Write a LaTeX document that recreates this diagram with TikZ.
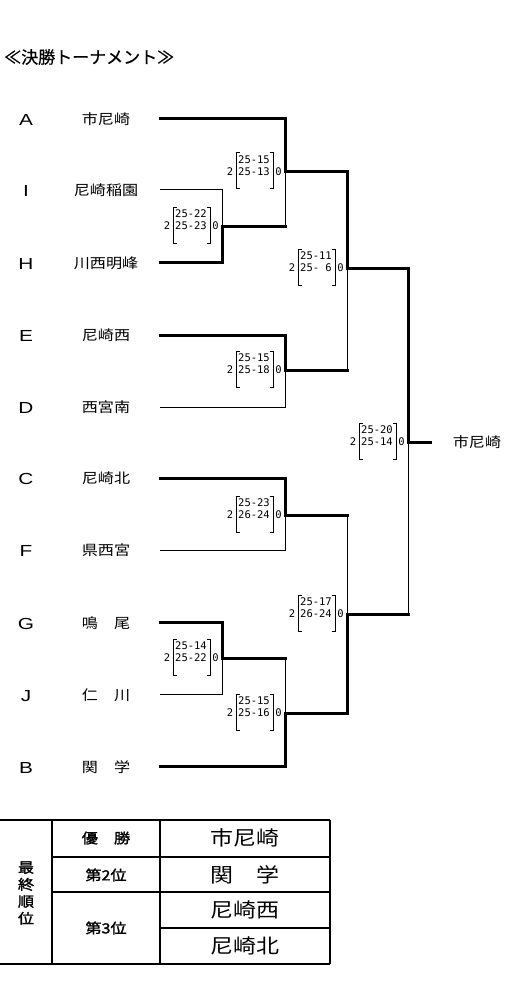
\documentclass[tikz,border=0pt]{standalone}
\usepackage{fontspec}
\newfontfamily\jp[FakeStretch=1.15]{Noto Sans CJK JP}
\newfontfamily\jpt[FakeBold=0.6]{Noto Sans CJK JP}
\newfontfamily\jpb[FakeStretch=1.15,FakeBold=1.6]{Noto Sans CJK JP}
\newfontfamily\lat[FakeStretch=1.3]{Liberation Sans}
\newfontfamily\mono{DejaVu Sans Mono}
\newcommand\mscore[3]{%
  \begin{scope}[shift={(#1)}]
    \node[sc] (#1w) at (-55,0) {2};
    \node[sc] (#1t) at (-31,-12) {#2};
    \node[sc] (#1b) at (-31,0) {#3};
    \node[sc] (#1l) at (-6.5,0) {0};
    \draw[thn] (-45.5,-19) -- (-49,-19) -- (-49,17) -- (-45.5,17);
    \draw[thn] (-15.5,-19) -- (-12,-19) -- (-12,17) -- (-15.5,17);
  \end{scope}}
\begin{document}
\begin{tikzpicture}[x=1pt,y=-1pt,
  thk/.style={line width=3pt,line cap=rect,line join=miter},
  thn/.style={line width=1pt},
  tbl/.style={line width=1.3pt},
  letter/.style={font=\lat\fontsize{16}{18}\selectfont,inner sep=0pt},
  team/.style={font=\jp\fontsize{14}{16}\selectfont,inner sep=0pt},
  sc/.style={font=\mono\fontsize{10.5}{12}\selectfont,inner sep=0pt},
  tl/.style={font=\jpb\fontsize{14}{17}\selectfont,inner sep=0pt,align=center},
  tm/.style={font=\jpb\fontsize{14}{16}\selectfont,inner sep=0pt},
  tr/.style={font=\jp\fontsize{20}{22}\selectfont,inner sep=0pt}]
\useasboundingbox (0,0) rectangle (528,995);
\fill[white] (0,0) rectangle (528,995);

\node[font=\jpt\fontsize{17}{20}\selectfont,anchor=west,inner sep=0pt] (title) at (4,57) {≪決勝トーナメント≫};

% letters
\node[letter] (lA) at (26,120) {A};
\node[letter] (lI) at (26,191) {I};
\node[letter] (lH) at (26,264) {H};
\node[letter] (lE) at (26,336) {E};
\node[letter] (lD) at (26,408) {D};
\node[letter] (lC) at (26,479) {C};
\node[letter] (lF) at (26,551) {F};
\node[letter] (lG) at (26,624) {G};
\node[letter] (lJ) at (26,696) {J};
\node[letter] (lB) at (26,768) {B};

% team names
\node[team] (nA) at (106,119) {市尼崎};
\node[team] (nI) at (106,190) {尼崎稲園};
\node[team] (nH) at (106,263) {川西明峰};
\node[team] (nE) at (106,335) {尼崎西};
\node[team] (nD) at (106,407) {西宮南};
\node[team] (nC) at (106,478) {尼崎北};
\node[team] (nF) at (106,550) {県西宮};
\node[team] (nG) at (106,623) {鳴　尾};
\node[team] (nJ) at (106,695) {仁　川};
\node[team] (nB) at (106,767) {関　学};

% start points
\coordinate (sA) at (160,119);
\coordinate (sI) at (160,190);
\coordinate (sH) at (160,262);
\coordinate (sE) at (160,335);
\coordinate (sD) at (160,407);
\coordinate (sC) at (160,478);
\coordinate (sF) at (160,550);
\coordinate (sG) at (160,622);
\coordinate (sJ) at (160,694);
\coordinate (sB) at (160,766);
% joints
\coordinate (j1) at (285,172);
\coordinate (j2) at (222,226);
\coordinate (j3) at (347,268);
\coordinate (j4) at (285,370);
\coordinate (j5) at (408,442);
\coordinate (j6) at (285,515);
\coordinate (j7) at (347,614);
\coordinate (j8) at (222,658);
\coordinate (j9) at (285,713);
\coordinate (k1) at (285,226);
\coordinate (k3) at (347,370);
\coordinate (k6) at (347,515);
\coordinate (k8) at (285,658);
\coordinate (k7) at (408,614);
\coordinate (fin) at (430,442);

% thin (losers)
\draw[thn] (sI) -| (j2);
\draw[thn] (k1) -- (j1);
\draw[thn] (sD) -| (j4);
\draw[thn] (k3) -- (j3);
\draw[thn] (sF) -| (j6);
\draw[thn] (k6) -- (j7);
\draw[thn] (sJ) -| (j8);
\draw[thn] (k8) -- (j9);
\draw[thn] (k7) -- (j5);
% thick (winners)
\draw[thk] (sA) -| (j1) -| (j3) -| (j5) -- (fin);
\draw[thk] (sH) -| (j2) -- (k1);
\draw[thk] (sE) -| (j4) -- (k3);
\draw[thk] (sC) -| (j6) -- (k6);
\draw[thk] (sG) -| (j8) -- (k8);
\draw[thk] (sB) -| (j9) -| (j7) -- (k7);

\node[team] (champ) at (477,442) {市尼崎};

% scores
\mscore{j1}{25-15}{25-13}
\mscore{j2}{25-22}{25-23}
\mscore{j3}{25-11}{25-\ 6}
\mscore{j4}{25-15}{25-18}
\mscore{j5}{25-20}{25-14}
\mscore{j6}{25-23}{26-24}
\mscore{j7}{25-17}{26-24}
\mscore{j8}{25-14}{25-22}
\mscore{j9}{25-15}{25-16}

% final standings table
\draw[tbl] (0,820) -- (330,820);
\draw[tbl] (0,964) -- (330,964);
\draw[tbl] (52,820) -- (52,964);
\draw[tbl] (160,820) -- (160,964);
\draw[tbl] (330,820) -- (330,964);
\draw[tbl] (52,857) -- (330,857);
\draw[tbl] (52,892) -- (330,892);
\draw[tbl] (160,928) -- (330,928);

\node[tl] (rk) at (26,893) {最\\終\\順\\位};
\node[tm] (r1) at (106,838) {優　勝};
\node[tm] (r2) at (106,875) {第2位};
\node[tm] (r3) at (106,928) {第3位};
\node[tr] (w1) at (245,838) {市尼崎};
\node[tr] (w2) at (245,875) {関　学};
\node[tr] (w3) at (245,910) {尼崎西};
\node[tr] (w4) at (245,946) {尼崎北};
\end{tikzpicture}
\end{document}
